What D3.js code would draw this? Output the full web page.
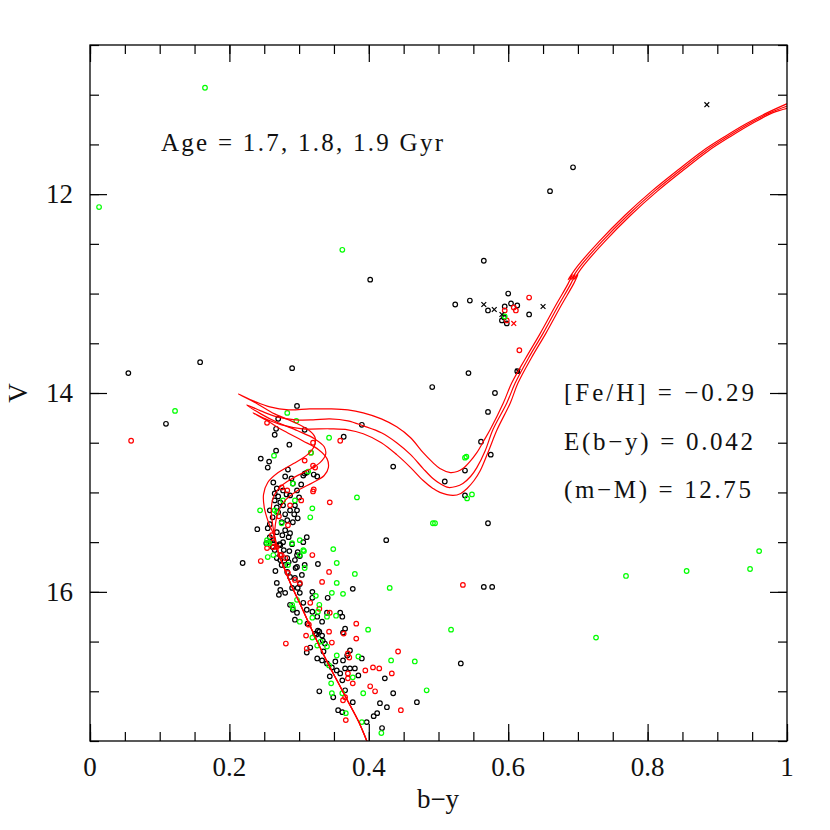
<!DOCTYPE html>
<html>
<head>
<meta charset="utf-8">
<script src="https://cdn.jsdelivr.net/npm/d3@7"></script>
<style>
  body { margin: 0; background: #fff; }
  text { font-family: "Liberation Serif", "DejaVu Serif", serif; fill: #111; }
</style>
</head>
<body>
<div id="chart_area"></div>
<script>
// tick values and labels
var xMajor = [0, 0.2, 0.4, 0.6, 0.8, 1];
var xTickLabels = ["0", "0.2", "0.4", "0.6", "0.8", "1"];
var yMajor = [12, 14, 16];
var yTickLabels = ["12", "14", "16"];

// stars: [b-y, V]
var blackPts = [
  [0.660,11.97],[0.693,11.73],[0.402,12.86],
  [0.565,12.67],[0.524,13.11],[0.545,13.07],[0.571,13.17],[0.600,13.00],[0.604,13.10],[0.613,13.12],
  [0.595,13.13],[0.630,13.21],[0.591,13.27],[0.594,13.24],[0.598,13.30],[0.543,13.80],[0.613,13.78],
  [0.290,13.75],[0.158,13.69],[0.055,13.80],[0.109,14.31],
  [0.491,13.94],[0.581,14.00],[0.571,14.19],[0.390,14.32],[0.364,14.44],[0.561,14.49],[0.575,14.62],
  [0.435,14.74],[0.538,14.78],[0.509,14.89],[0.538,15.03],
  [0.571,15.31],[0.425,15.48],[0.565,15.95],[0.577,15.95],[0.532,16.72],[0.219,15.71],
  [0.297,14.13],[0.270,14.26],[0.267,14.36],[0.265,14.42],[0.308,14.37],[0.286,14.52],[0.267,14.58],
  [0.245,14.66],[0.257,14.69],[0.255,14.75],[0.284,14.77],[0.308,14.81],[0.311,14.80],[0.306,14.83],
  [0.326,14.84],[0.321,14.82],
  [0.263,14.90],[0.268,14.96],[0.265,15.01],[0.277,14.98],[0.291,14.91],[0.297,14.98],[0.287,15.03],
  [0.273,15.10],[0.265,15.08],[0.268,15.15],[0.277,15.13],[0.287,15.18],[0.294,15.13],[0.297,15.18],
  [0.298,15.26],[0.291,15.30],[0.283,15.28],[0.240,15.37],[0.255,15.36],[0.258,15.45],[0.263,15.48],
  [0.280,15.38],[0.287,15.41],[0.311,15.45],[0.306,15.50],[0.265,15.58],[0.273,15.63],[0.283,15.66],
  [0.275,15.73],[0.294,15.68],[0.298,15.60],[0.327,15.72],
  [0.270,15.20],[0.262,15.25],[0.275,15.30],[0.280,15.22],[0.258,15.32],[0.268,15.40],[0.285,15.45],
  [0.272,15.52],[0.262,15.55],[0.290,15.52],[0.278,15.58],[0.268,15.66],[0.285,15.70],[0.295,15.76],
  [0.300,15.05],[0.289,14.86],[0.280,14.84],[0.303,14.92],[0.270,15.04],[0.258,15.18],
  [0.253,15.51],[0.263,15.51],[0.273,15.53],[0.277,15.50],[0.297,15.63],[0.301,15.64],[0.273,15.68],
  [0.280,15.73],[0.283,15.80],[0.287,15.85],[0.297,15.75],[0.308,15.73],[0.304,15.83],[0.294,15.86],
  [0.268,15.91],[0.273,15.98],[0.271,16.03],[0.280,16.01],[0.290,15.96],[0.298,15.96],[0.301,16.01],
  [0.319,16.00],[0.319,16.06],[0.377,15.97],[0.341,16.06],[0.287,16.13],[0.291,16.18],[0.297,16.21],
  [0.306,16.11],[0.311,16.18],[0.319,16.20],[0.326,16.25],[0.333,16.30],[0.340,16.21],[0.359,16.21],
  [0.362,16.25],[0.366,16.37],[0.363,16.41],[0.294,16.28],[0.311,16.61],[0.316,16.56],[0.323,16.42],
  [0.327,16.39],[0.333,16.44],[0.334,16.49],[0.337,16.52],[0.326,16.67],[0.333,16.69],[0.340,16.72],
  [0.347,16.76],[0.354,16.79],[0.359,16.82],[0.366,16.77],[0.373,16.77],[0.380,16.77],[0.385,16.84],
  [0.373,16.59],[0.390,16.67],[0.369,16.64],[0.363,16.69],[0.362,16.89],[0.329,17.00],[0.366,16.99],
  [0.377,17.11],[0.349,17.06],[0.356,17.19],[0.362,17.21],[0.412,17.22],[0.407,17.25],[0.419,17.37],
  [0.423,16.87],[0.435,17.02],[0.416,17.12],[0.426,17.16],[0.469,17.11],[0.397,17.31],
  [0.329,16.40],[0.325,16.43],
  [0.282,15.02],[0.293,15.22],[0.276,15.43],[0.286,15.59],[0.266,15.79],[0.301,15.92],[0.312,16.32],
  [0.335,16.60],[0.352,16.70],[0.344,16.85]
];

var redPts = [
  [0.630,13.04],[0.608,13.14],[0.611,13.17],[0.595,13.17],[0.598,13.27],[0.616,13.57],[0.359,14.48],
  [0.344,15.10],[0.059,14.48],[0.245,15.69],[0.281,16.52],[0.535,15.93],
  [0.254,14.30],[0.320,14.50],[0.317,14.60],[0.308,14.68],[0.323,14.75],[0.320,14.73],
  [0.275,14.95],[0.283,14.98],[0.287,15.13],[0.284,15.33],[0.261,15.43],[0.263,15.50],[0.254,15.56],
  [0.268,15.55],[0.275,15.63],[0.319,15.63],[0.271,15.24],[0.303,15.08],[0.320,14.99],[0.321,14.97],
  [0.343,15.80],[0.333,15.90],[0.263,15.55],[0.273,15.63],[0.280,15.66],[0.284,15.81],[0.294,15.88],
  [0.301,15.91],[0.316,16.11],[0.329,16.17],[0.344,16.21],[0.347,16.51],[0.343,16.40],[0.364,16.42],
  [0.382,16.32],[0.382,16.47],[0.311,16.57],[0.310,16.44],[0.314,16.33],[0.370,16.62],[0.372,16.66],
  [0.395,16.79],[0.406,16.76],[0.415,16.77],[0.433,16.82],[0.442,16.60],[0.370,16.82],[0.370,16.87],
  [0.377,16.92],[0.402,16.95],[0.409,17.00],[0.363,17.09],[0.366,17.06],[0.367,17.29],[0.446,17.19]
];

var greenPts = [
  [0.013,12.13],[0.165,10.93],[0.362,12.56],[0.122,14.18],[0.595,13.23],
  [0.538,14.65],[0.540,14.64],[0.383,15.05],[0.541,15.06],[0.548,15.02],[0.492,15.31],[0.495,15.31],
  [0.518,16.38],[0.483,16.99],[0.726,16.46],[0.769,15.84],[0.856,15.79],[0.947,15.77],[0.960,15.59],
  [0.283,14.20],[0.296,14.28],[0.343,14.45],[0.264,14.63],[0.317,14.60],[0.313,14.79],
  [0.291,14.91],[0.277,15.08],[0.294,15.08],[0.244,15.18],[0.265,15.18],[0.268,15.20],[0.319,15.16],
  [0.316,15.25],[0.254,15.48],[0.254,15.51],[0.275,15.31],[0.301,15.48],[0.349,15.57],[0.306,15.58],
  [0.284,15.73],[0.308,15.76],
  [0.255,15.65],[0.263,15.63],[0.257,15.51],[0.290,15.51],[0.301,15.63],[0.307,15.59],[0.354,15.71],
  [0.380,15.82],[0.354,15.91],[0.347,16.01],[0.363,16.02],[0.430,15.96],[0.324,16.04],[0.297,16.08],
  [0.290,16.13],[0.291,16.16],[0.301,16.30],[0.319,16.26],[0.329,16.13],[0.327,16.20],[0.340,16.25],
  [0.353,16.24],[0.399,16.38],[0.319,16.46],[0.326,16.54],[0.340,16.55],[0.331,16.50],[0.343,16.74],
  [0.354,16.64],[0.385,16.65],[0.432,16.69],[0.466,16.70],[0.346,16.92],[0.347,17.02],[0.362,17.02],
  [0.377,16.86],[0.392,17.02],[0.367,17.22],[0.390,17.31],[0.418,17.42]
];

var blackCross = [[0.885,11.10],[0.565,13.11],[0.580,13.16],[0.591,13.21],[0.650,13.13],[0.614,13.78]];
var redCross = [[0.608,13.30]];

// isochrones: [b-y, V]
var iso17 = [
  [0.400,17.55],[0.385,17.30],[0.370,17.10],[0.355,16.90],[0.340,16.70],[0.326,16.50],[0.313,16.30],
  [0.300,16.10],[0.288,15.92],[0.278,15.75],[0.270,15.60],[0.265,15.45],
  [0.256,15.30],[0.250,15.15],[0.249,15.02],[0.255,14.90],[0.270,14.80],[0.292,14.71],[0.312,14.62],
  [0.322,14.53],[0.323,14.45],[0.315,14.38],[0.295,14.30],[0.265,14.21],[0.238,14.10],[0.213,14.01],
  [0.235,14.08],[0.258,14.14],[0.285,14.17],[0.315,14.16],[0.344,14.16],[0.370,14.17],[0.392,14.20],
  [0.418,14.26],[0.440,14.34],[0.460,14.45],[0.478,14.60],[0.492,14.70],[0.502,14.76],[0.517,14.80],
  [0.527,14.79],[0.535,14.76],[0.545,14.69],[0.555,14.60],[0.565,14.48],[0.574,14.37],[0.593,14.10],
  [0.605,13.90],[0.625,13.65],[0.646,13.40],[0.668,13.12],[0.686,12.90],[0.692,12.81],[0.686,12.86],
  [0.700,12.72],[0.730,12.48],[0.768,12.21],[0.806,11.97],[0.843,11.76],[0.878,11.57],[0.911,11.42],
  [0.942,11.29],[0.972,11.18],[1.010,11.06]
];
var iso18 = [
  [0.400,17.55],[0.385,17.30],[0.370,17.10],[0.355,16.90],[0.340,16.70],[0.326,16.50],[0.313,16.30],
  [0.300,16.10],[0.288,15.92],[0.278,15.75],[0.270,15.60],[0.265,15.45],
  [0.262,15.32],[0.260,15.18],[0.263,15.05],[0.272,14.95],[0.290,14.86],[0.312,14.78],[0.330,14.70],
  [0.338,14.62],[0.336,14.54],[0.322,14.46],[0.298,14.38],[0.270,14.30],[0.245,14.21],[0.225,14.12],
  [0.245,14.18],[0.268,14.24],[0.295,14.27],[0.320,14.27],[0.344,14.26],[0.370,14.28],[0.392,14.33],
  [0.418,14.40],[0.440,14.50],[0.460,14.62],[0.478,14.76],[0.492,14.86],[0.502,14.91],[0.514,14.95],
  [0.525,14.94],[0.535,14.91],[0.546,14.84],[0.555,14.75],[0.567,14.58],[0.578,14.37],[0.598,14.10],
  [0.610,13.90],[0.629,13.65],[0.650,13.40],[0.672,13.12],[0.690,12.90],[0.696,12.81],[0.690,12.86],
  [0.704,12.72],[0.734,12.48],[0.772,12.21],[0.810,11.97],[0.847,11.76],[0.882,11.57],[0.915,11.42],
  [0.946,11.29],[0.976,11.18],[1.010,11.09]
];
var iso19 = [
  [0.400,17.55],[0.385,17.30],[0.370,17.10],[0.355,16.90],[0.340,16.70],[0.326,16.50],[0.313,16.30],
  [0.300,16.10],[0.288,15.92],[0.278,15.75],[0.270,15.60],[0.265,15.45],
  [0.266,15.32],[0.270,15.20],[0.280,15.08],[0.298,14.98],[0.320,14.90],[0.336,14.83],[0.342,14.75],
  [0.340,14.66],[0.328,14.57],[0.305,14.48],[0.278,14.38],[0.252,14.27],[0.234,14.20],
  [0.252,14.26],[0.275,14.32],[0.305,14.36],[0.344,14.36],[0.370,14.37],[0.392,14.41],
  [0.418,14.50],[0.440,14.62],[0.460,14.75],[0.478,14.88],[0.492,14.96],[0.502,15.00],[0.521,15.03],
  [0.532,15.01],[0.541,14.96],[0.551,14.88],[0.560,14.78],[0.572,14.58],[0.584,14.37],[0.603,14.10],
  [0.614,13.90],[0.633,13.65],[0.654,13.40],[0.676,13.12],[0.694,12.90],[0.700,12.81],[0.694,12.86],
  [0.708,12.72],[0.738,12.48],[0.776,12.21],[0.814,11.97],[0.851,11.76],[0.886,11.57],[0.919,11.42],
  [0.950,11.29],[0.980,11.18],[1.010,11.12]
];

var ageText = "Age = 1.7, 1.8, 1.9 Gyr";
var paramText = ["[Fe/H] = \u22120.29", "E(b\u2212y) = 0.042", "(m\u2212M) = 12.75"];

var W = 830, H = 830;
var mLeft = 90, mRight = 787, mTop = 45, mBottom = 741;

var svg = d3.select("#chart_area").append("svg")
    .attr("width", W)
    .attr("height", H);

var x = d3.scaleLinear().domain([0, 1]).range([mLeft, mRight]);
var y = d3.scaleLinear().domain([10.5, 17.5]).range([mTop, mBottom]);

svg.append("clipPath").attr("id", "clip")
  .append("rect")
    .attr("x", mLeft).attr("y", mTop)
    .attr("width", mRight - mLeft).attr("height", mBottom - mTop);

var plot = svg.append("g").attr("clip-path", "url(#clip)");

// open circles
function drawCircles(data, color) {
    plot.append("g").selectAll("circle")
        .data(data)
        .enter().append("circle")
        .attr("cx", function(d) { return x(d[0]); })
        .attr("cy", function(d) { return y(d[1]); })
        .attr("r", 2.3)
        .style("fill", "none")
        .style("stroke", color)
        .style("stroke-width", 1.2);
}
drawCircles(blackPts, "#000");
drawCircles(redPts, "#ff0000");
drawCircles(greenPts, "#00ff00");

function drawCrosses(data, color) {
    plot.append("g").selectAll("path")
        .data(data)
        .enter().append("path")
        .attr("d", function(d) {
            var cx = x(d[0]), cy = y(d[1]), s = 2.4;
            return "M" + (cx - s) + "," + (cy - s) + "L" + (cx + s) + "," + (cy + s) +
                   "M" + (cx - s) + "," + (cy + s) + "L" + (cx + s) + "," + (cy - s);
        })
        .style("fill", "none")
        .style("stroke", color)
        .style("stroke-width", 1.2);
}
drawCrosses(blackCross, "#000");
drawCrosses(redCross, "#ff0000");

// isochrones
var line = d3.line()
    .x(function(d) { return x(d[0]); })
    .y(function(d) { return y(d[1]); })
    .curve(d3.curveCatmullRom.alpha(0.5));

[iso17, iso18, iso19].forEach(function(iso) {
    plot.append("path")
        .datum(iso)
        .attr("d", line)
        .style("fill", "none")
        .style("stroke", "#ff0000")
        .style("stroke-width", 1.2);
});

// frame + inward ticks on all sides
var axes = svg.append("g");
function tickAxis(axis, tr, size, values) {
    var g = axes.append("g").attr("transform", tr)
        .call(axis.tickValues(values).tickSize(size).tickFormat(""));
    g.select(".domain").remove();
    g.selectAll("line").style("stroke", "#000").style("stroke-width", 1.2);
}
var xMinor = d3.range(0, 1.001, 0.05);
var yMinor = d3.range(10.5, 17.501, 0.5);
tickAxis(d3.axisBottom(x), "translate(0," + mBottom + ")", -9, xMinor);
tickAxis(d3.axisBottom(x), "translate(0," + mBottom + ")", -17, xMajor);
tickAxis(d3.axisTop(x), "translate(0," + mTop + ")", -9, xMinor);
tickAxis(d3.axisTop(x), "translate(0," + mTop + ")", -17, xMajor);
tickAxis(d3.axisLeft(y), "translate(" + mLeft + ",0)", -9, yMinor);
tickAxis(d3.axisLeft(y), "translate(" + mLeft + ",0)", -17, yMajor);
tickAxis(d3.axisRight(y), "translate(" + mRight + ",0)", -9, yMinor);
tickAxis(d3.axisRight(y), "translate(" + mRight + ",0)", -17, yMajor);

svg.append("rect")
    .attr("x", mLeft).attr("y", mTop)
    .attr("width", mRight - mLeft).attr("height", mBottom - mTop)
    .style("fill", "none")
    .style("stroke", "#000")
    .style("stroke-width", 1.3);

// tick labels
svg.append("g").selectAll("text")
    .data(xMajor)
    .enter().append("text")
    .attr("x", function(d) { return x(d); })
    .attr("y", 776)
    .attr("text-anchor", "middle")
    .style("font-size", "27px")
    .text(function(d, i) { return xTickLabels[i]; });

svg.append("g").selectAll("text")
    .data(yMajor)
    .enter().append("text")
    .attr("x", 73)
    .attr("y", function(d) { return y(d) + 9; })
    .attr("text-anchor", "end")
    .style("font-size", "27px")
    .text(function(d, i) { return yTickLabels[i]; });

// axis titles
svg.append("text")
    .attr("x", 438).attr("y", 808)
    .attr("text-anchor", "middle")
    .style("font-size", "27px")
    .text("b\u2212y");

svg.append("text")
    .attr("transform", "translate(27,393) rotate(-90)")
    .attr("text-anchor", "middle")
    .style("font-size", "27px")
    .text("V");

// annotations
svg.append("text")
    .attr("x", 161).attr("y", 151)
    .attr("textLength", 282)
    .attr("lengthAdjust", "spacing")
    .style("font-size", "25px")
    .text(ageText);

var paramY = [401, 450, 498];
var paramW = [190, 189, 187];
svg.append("g").selectAll("text")
    .data(paramText)
    .enter().append("text")
    .attr("x", 564)
    .attr("y", function(d, i) { return paramY[i]; })
    .attr("textLength", function(d, i) { return paramW[i]; })
    .attr("lengthAdjust", "spacing")
    .style("font-size", "25px")
    .text(function(d) { return d; });
</script>
</body>
</html>
